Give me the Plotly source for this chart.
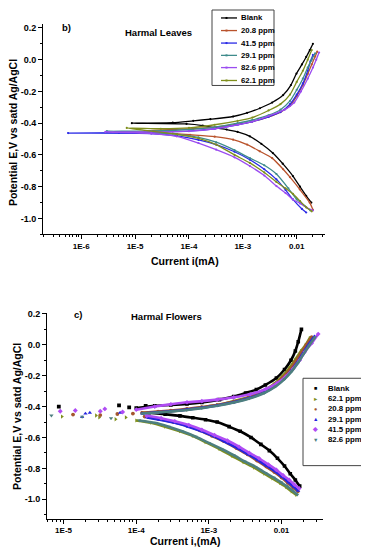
import plotly.graph_objects as go

W, H = 369, 550
OFF = 8  # page body margin of the browser
FW, FH = W - OFF, H - OFF

# ---------------- panel b) Harmal Leaves (current mA, potential V, in scan order) ----------------
LEAVES_NAMES = ["Blank", "20.8 ppm", "41.5 ppm", "29.1 ppm", "82.6 ppm", "62.1 ppm"]
LEAVES_COLORS = ["#000000", "#b9532c", "#2b2be6", "#3f8c8c", "#9b4cf0", "#7f8f1c"]

LEAVES_BLANK_I = [0.0187, 0.015, 0.0115, 0.0085, 0.0055, 0.0036, 0.0022, 0.00135, 0.0008, 0.0005, 0.00032, 0.00018, 0.00009,
                  0.0000087,
                  0.00005, 0.00012, 0.00025, 0.00066, 0.0012, 0.00207, 0.0035, 0.0056, 0.0078, 0.0099, 0.0125, 0.015, 0.0175, 0.02]
LEAVES_BLANK_E = [-0.90, -0.858, -0.80, -0.733, -0.655, -0.588, -0.53, -0.483, -0.455, -0.44, -0.43, -0.415, -0.405,
                  -0.40,
                  -0.397, -0.385, -0.375, -0.358, -0.335, -0.306, -0.27, -0.223, -0.16, -0.0875, -0.03, 0.017, 0.06, 0.10]

LEAVES_208_I = [0.02, 0.0174, 0.0114, 0.0075, 0.0056, 0.0035, 0.00207, 0.0012, 0.00066, 0.0003, 0.000105, 0.00005,
                0.000015,
                0.00005, 0.00012, 0.0003, 0.0007, 0.0015, 0.003, 0.005, 0.0075, 0.01, 0.013, 0.016, 0.019, 0.022, 0.024]
LEAVES_208_E = [-0.945, -0.90, -0.817, -0.74, -0.69, -0.62, -0.577, -0.535, -0.504, -0.485, -0.473, -0.465,
                -0.45,
                -0.44, -0.435, -0.425, -0.41, -0.39, -0.36, -0.33, -0.29, -0.23, -0.16, -0.09, -0.03, 0.02, 0.05]

LEAVES_415_I = [0.015, 0.0125, 0.0085, 0.0062, 0.0042, 0.0025, 0.00135, 0.0007, 0.00032, 0.00015, 0.00006, 0.00002,
                0.00000057,
                0.000005, 0.00003, 0.0001, 0.0003, 0.0008, 0.0015, 0.003, 0.005, 0.0075, 0.01, 0.013, 0.016, 0.018, 0.02]
LEAVES_415_E = [-0.9625, -0.94, -0.88, -0.82, -0.754, -0.69, -0.63, -0.58, -0.535, -0.505, -0.48, -0.465,
                -0.4625,
                -0.46, -0.455, -0.45, -0.435, -0.41, -0.39, -0.36, -0.33, -0.28, -0.22, -0.15, -0.07, -0.01, 0.03]

LEAVES_291_I = [0.018, 0.014, 0.01, 0.007, 0.0042, 0.0025, 0.00135, 0.0007, 0.00032, 0.00015, 0.00006,
                0.000003,
                0.00002, 0.0001, 0.0003, 0.0008, 0.0015, 0.003, 0.005, 0.0075, 0.01, 0.013, 0.016, 0.019, 0.022]
LEAVES_291_E = [-0.95, -0.92, -0.88, -0.81, -0.72, -0.665, -0.62, -0.57, -0.52, -0.49, -0.47,
                -0.45,
                -0.45, -0.44, -0.425, -0.40, -0.38, -0.35, -0.315, -0.26, -0.19, -0.12, -0.05, 0.0, 0.04]

LEAVES_826_I = [0.02, 0.015, 0.0115, 0.0085, 0.0062, 0.0042, 0.0025, 0.00135, 0.0007, 0.00032, 0.00015, 0.000059, 0.00002,
                0.0000028,
                0.00002, 0.0001, 0.0003, 0.0008, 0.0015, 0.003, 0.006, 0.009, 0.012, 0.016, 0.02, 0.023, 0.026]
LEAVES_826_E = [-0.95, -0.93, -0.905, -0.88, -0.84, -0.796, -0.73, -0.67, -0.615, -0.567, -0.525, -0.483, -0.465,
                -0.455,
                -0.455, -0.45, -0.435, -0.41, -0.39, -0.355, -0.315, -0.27, -0.20, -0.12, -0.05, 0.0, 0.045]

LEAVES_621_I = [0.019, 0.015, 0.0115, 0.0085, 0.0062, 0.0042, 0.0025, 0.00135, 0.0007, 0.00032, 0.00015, 0.00006,
                0.000007,
                0.00003, 0.0001, 0.0003, 0.0008, 0.0015, 0.003, 0.005, 0.0075, 0.01, 0.013, 0.016, 0.019]
LEAVES_621_E = [-0.955, -0.93, -0.89, -0.845, -0.81, -0.77, -0.71, -0.65, -0.60, -0.535, -0.495, -0.47,
                -0.43,
                -0.435, -0.43, -0.41, -0.385, -0.365, -0.32, -0.28, -0.22, -0.14, -0.07, 0.0, 0.06]

LEAVES_I = [LEAVES_BLANK_I, LEAVES_208_I, LEAVES_415_I, LEAVES_291_I, LEAVES_826_I, LEAVES_621_I]
LEAVES_E = [LEAVES_BLANK_E, LEAVES_208_E, LEAVES_415_E, LEAVES_291_E, LEAVES_826_E, LEAVES_621_E]

# ---------------- panel c) Harmal Flowers ----------------
FLOW_NAMES = ["Blank", "62.1 ppm", "20.8 ppm", "29.1 ppm", "41.5 ppm", "82.6 ppm"]
FLOW_COLORS = ["#000000", "#7f8f1c", "#a4562e", "#2424e0", "#b04cf4", "#4d7f7f"]
FLOW_SYMBOLS = ["square", "triangle-right", "circle", "triangle-up", "diamond", "triangle-down"]
FLOW_GLYPHS = ["\u25a0", "\u25ba", "\u25cf", "\u25b2", "\u25c6", "\u25bc"]

FLOW_BLANK_CATH_I = [0.0178, 0.0155, 0.0132, 0.011, 0.0088, 0.0068, 0.0052, 0.0038, 0.0027, 0.0019, 0.0013, 0.0009, 0.0006, 0.0004, 0.00025, 0.00015]
FLOW_BLANK_CATH_E = [-0.915, -0.875, -0.835, -0.785, -0.735, -0.685, -0.645, -0.60, -0.56, -0.53, -0.50, -0.485, -0.472, -0.46, -0.45, -0.44]
FLOW_BLANK_AN_I = [0.0001, 0.00018, 0.0003, 0.0005, 0.0008, 0.0014, 0.0022, 0.0032, 0.0045, 0.006, 0.0085, 0.011, 0.0135, 0.0155, 0.017, 0.0188]
FLOW_BLANK_AN_E = [-0.41, -0.395, -0.39, -0.383, -0.373, -0.355, -0.335, -0.312, -0.29, -0.26, -0.215, -0.16, -0.10, -0.04, 0.02, 0.10]
FLOW_BLANK_PTS_I = [8.6e-6, 5.8e-5, 8.0e-5, 1.35e-4]
FLOW_BLANK_PTS_E = [-0.40, -0.392, -0.405, -0.395]

FLOW_621_CATH_I = [0.016, 0.0138, 0.0115, 0.0095, 0.0075, 0.0058, 0.0042, 0.003, 0.0021, 0.0014, 0.0009, 0.0006, 0.0004, 0.00025, 0.00016, 0.0001]
FLOW_621_CATH_E = [-0.972, -0.95, -0.92, -0.895, -0.865, -0.835, -0.795, -0.76, -0.72, -0.675, -0.63, -0.59, -0.56, -0.53, -0.505, -0.49]
FLOW_621_AN_I = [0.00012, 0.0002, 0.0003, 0.0005, 0.0008, 0.0013, 0.0022, 0.0035, 0.0055, 0.0078, 0.0102, 0.0128, 0.0155, 0.0185, 0.0215, 0.0245]
FLOW_621_AN_E = [-0.44, -0.435, -0.43, -0.42, -0.405, -0.39, -0.365, -0.34, -0.30, -0.255, -0.205, -0.15, -0.095, -0.04, 0.0, 0.045]
FLOW_621_PTS_I = [9.5e-6, 2.8e-5, 3.1e-5, 5.2e-5, 7.2e-5]
FLOW_621_PTS_E = [-0.465, -0.458, -0.47, -0.482, -0.47]

FLOW_208_CATH_I = [0.0168, 0.0145, 0.0122, 0.01, 0.008, 0.0062, 0.0046, 0.0034, 0.0024, 0.0016, 0.0011, 0.00075, 0.0005, 0.00032, 0.0002, 0.00013]
FLOW_208_CATH_E = [-0.95, -0.925, -0.895, -0.86, -0.825, -0.79, -0.75, -0.71, -0.67, -0.625, -0.59, -0.555, -0.525, -0.50, -0.48, -0.465]
FLOW_208_AN_I = [0.00012, 0.0002, 0.0003, 0.0005, 0.0008, 0.0013, 0.0022, 0.0035, 0.0055, 0.0078, 0.0102, 0.0128, 0.0155, 0.0185, 0.022, 0.026]
FLOW_208_AN_E = [-0.44, -0.432, -0.425, -0.415, -0.403, -0.39, -0.368, -0.342, -0.305, -0.262, -0.215, -0.165, -0.11, -0.055, 0.0, 0.05]
FLOW_208_PTS_I = [1.35e-5, 3.2e-5, 5.5e-5, 9e-5]
FLOW_208_PTS_E = [-0.452, -0.455, -0.448, -0.445]

FLOW_291_CATH_I = [0.017, 0.0148, 0.0125, 0.0102, 0.0082, 0.0063, 0.0047, 0.0035, 0.0025, 0.0017, 0.0012, 0.0008, 0.00052, 0.00034, 0.00021, 0.00014]
FLOW_291_CATH_E = [-0.945, -0.92, -0.89, -0.855, -0.82, -0.785, -0.745, -0.71, -0.67, -0.63, -0.595, -0.56, -0.53, -0.505, -0.485, -0.47]
FLOW_291_AN_I = [0.00012, 0.0002, 0.0003, 0.0005, 0.0008, 0.0013, 0.0022, 0.0036, 0.0057, 0.0082, 0.0108, 0.0135, 0.0165, 0.0195, 0.0235, 0.0285]
FLOW_291_AN_E = [-0.445, -0.437, -0.43, -0.42, -0.408, -0.393, -0.372, -0.345, -0.31, -0.268, -0.22, -0.17, -0.115, -0.06, 0.0, 0.055]
FLOW_291_PTS_I = [1.8e-5, 2.0e-5, 2.3e-5, 6e-5]
FLOW_291_PTS_E = [-0.468, -0.445, -0.44, -0.44]

FLOW_415_CATH_I = [0.0175, 0.015, 0.0128, 0.0105, 0.0085, 0.0066, 0.0049, 0.0036, 0.0026, 0.0018, 0.0012, 0.0008, 0.00053, 0.00034, 0.00022, 0.00014]
FLOW_415_CATH_E = [-0.93, -0.905, -0.875, -0.845, -0.81, -0.775, -0.735, -0.70, -0.66, -0.62, -0.585, -0.55, -0.52, -0.495, -0.475, -0.46]
FLOW_415_AN_I = [0.0001, 0.00018, 0.0003, 0.0005, 0.0008, 0.0013, 0.0022, 0.0037, 0.006, 0.0086, 0.0115, 0.0145, 0.0178, 0.021, 0.026, 0.032]
FLOW_415_AN_E = [-0.42, -0.40, -0.385, -0.372, -0.365, -0.355, -0.34, -0.32, -0.288, -0.25, -0.205, -0.155, -0.10, -0.045, 0.01, 0.07]
FLOW_415_PTS_I = [9e-6, 1.45e-5, 3.2e-5, 3.7e-5, 6.5e-5]
FLOW_415_PTS_E = [-0.43, -0.425, -0.43, -0.415, -0.435]

FLOW_826_CATH_I = [0.0165, 0.0142, 0.0118, 0.0098, 0.0078, 0.006, 0.0044, 0.0031, 0.0022, 0.0015, 0.001, 0.00066, 0.00043, 0.00028, 0.00018, 0.00011]
FLOW_826_CATH_E = [-0.97, -0.945, -0.915, -0.89, -0.86, -0.83, -0.79, -0.755, -0.715, -0.675, -0.635, -0.595, -0.56, -0.53, -0.505, -0.49]
FLOW_826_AN_I = [0.00012, 0.0002, 0.0003, 0.0005, 0.0008, 0.0013, 0.0022, 0.0036, 0.0058, 0.0083, 0.011, 0.0138, 0.0168, 0.02, 0.024, 0.029]
FLOW_826_AN_E = [-0.445, -0.438, -0.432, -0.422, -0.41, -0.395, -0.374, -0.348, -0.312, -0.27, -0.222, -0.172, -0.118, -0.062, -0.005, 0.05]
FLOW_826_PTS_I = [6.8e-6, 1.8e-5, 4.5e-5]
FLOW_826_PTS_E = [-0.458, -0.466, -0.476]

FLOW_CATH_I = [FLOW_BLANK_CATH_I, FLOW_621_CATH_I, FLOW_208_CATH_I, FLOW_291_CATH_I, FLOW_415_CATH_I, FLOW_826_CATH_I]
FLOW_CATH_E = [FLOW_BLANK_CATH_E, FLOW_621_CATH_E, FLOW_208_CATH_E, FLOW_291_CATH_E, FLOW_415_CATH_E, FLOW_826_CATH_E]
FLOW_AN_I = [FLOW_BLANK_AN_I, FLOW_621_AN_I, FLOW_208_AN_I, FLOW_291_AN_I, FLOW_415_AN_I, FLOW_826_AN_I]
FLOW_AN_E = [FLOW_BLANK_AN_E, FLOW_621_AN_E, FLOW_208_AN_E, FLOW_291_AN_E, FLOW_415_AN_E, FLOW_826_AN_E]
FLOW_PTS_I = [FLOW_BLANK_PTS_I, FLOW_621_PTS_I, FLOW_208_PTS_I, FLOW_291_PTS_I, FLOW_415_PTS_I, FLOW_826_PTS_I]
FLOW_PTS_E = [FLOW_BLANK_PTS_E, FLOW_621_PTS_E, FLOW_208_PTS_E, FLOW_291_PTS_E, FLOW_415_PTS_E, FLOW_826_PTS_E]

X_TICKS_LEAVES = [1e-6, 1e-5, 1e-4, 1e-3, 1e-2]
X_TEXT_LEAVES = ["1E-6", "1E-5", "1E-4", "1E-3", "0.01"]
X_TICKS_FLOW = [1e-5, 1e-4, 1e-3, 1e-2]
X_TEXT_FLOW = ["1E-5", "1E-4", "1E-3", "0.01"]
Y_TICKS = [-1.0, -0.8, -0.6, -0.4, -0.2, 0.0, 0.2]
Y_TEXT = ["-1.0", "-0.8", "-0.6", "-0.4", "-0.2", "0.0", "0.2"]

FONT = "Liberation Sans, Arial, sans-serif"


def px(x):
    return (x - OFF) / FW


def py(y):
    return 1 - (y - OFF) / FH


fig = go.Figure()

# Leaves: lines with small symbols
for name, col, xs, ys in zip(LEAVES_NAMES, LEAVES_COLORS, LEAVES_I, LEAVES_E):
    fig.add_trace(go.Scatter(x=xs, y=ys, mode="lines+markers", name=name, showlegend=False,
                             line=dict(color=col, width=1.3, shape="spline", smoothing=0.6),
                             marker=dict(color=col, size=2.2),
                             xaxis="x", yaxis="y"))

# Flowers: dense symbols
for k, (name, col, sym) in enumerate(zip(FLOW_NAMES, FLOW_COLORS, FLOW_SYMBOLS)):
    for xs, ys in ((FLOW_CATH_I[k], FLOW_CATH_E[k]), (FLOW_AN_I[k], FLOW_AN_E[k])):
        fig.add_trace(go.Scatter(x=xs, y=ys, mode="lines+markers", name=name, showlegend=False,
                                 line=dict(color=col, width=2.6, shape="spline", smoothing=0.6),
                                 marker=dict(color=col, size=3.6, symbol=sym),
                                 xaxis="x2", yaxis="y2"))
    fig.add_trace(go.Scatter(x=FLOW_PTS_I[k], y=FLOW_PTS_E[k], mode="markers", name=name, showlegend=False,
                             marker=dict(color=col, size=3.8, symbol=sym),
                             xaxis="x2", yaxis="y2"))

axis_common = dict(showline=True, linecolor="black", linewidth=1, ticks="outside", tickcolor="black",
                   ticklen=4, tickwidth=1, showgrid=False, zeroline=False, mirror=False)

fig.update_layout(
    width=FW, height=FH,
    margin=dict(l=0, r=0, t=0, b=0),
    paper_bgcolor="white", plot_bgcolor="white",
    showlegend=False,
    font=dict(family=FONT, color="black"),
    xaxis=dict(type="log", range=[-6.71, -1.475], domain=[px(43), px(325)], anchor="y",
               tickvals=X_TICKS_LEAVES, ticktext=X_TEXT_LEAVES,
               tickfont=dict(size=8, weight="bold", family=FONT),
               minor=dict(ticks="outside", ticklen=2, tickcolor="black", dtick="D1", showgrid=False),
               **axis_common),
    yaxis=dict(range=[-1.1, 0.225], domain=[py(232), py(20)], anchor="x",
               tickvals=Y_TICKS, ticktext=Y_TEXT,
               tickfont=dict(size=9, weight="bold", family=FONT),
               minor=dict(ticks="outside", ticklen=2, tickcolor="black", dtick=0.1, tick0=0, showgrid=False),
               **axis_common),
    xaxis2=dict(type="log", range=[-5.228, -1.429], domain=[px(47), px(323)], anchor="y2",
                tickvals=X_TICKS_FLOW, ticktext=X_TEXT_FLOW,
                tickfont=dict(size=8, weight="bold", family=FONT),
                minor=dict(ticks="outside", ticklen=2, tickcolor="black", dtick="D1", showgrid=False),
                **axis_common),
    yaxis2=dict(range=[-1.125, 0.203], domain=[py(518.3), py(311.7)], anchor="x2",
                tickvals=Y_TICKS, ticktext=Y_TEXT,
                tickfont=dict(size=9, weight="bold", family=FONT),
                minor=dict(ticks="outside", ticklen=2, tickcolor="black", dtick=0.1, tick0=0, showgrid=False),
                **axis_common),
)

ann = []
shapes = []


def text(x, y, s, size, xanchor="center", angle=0, color="black"):
    ann.append(dict(x=px(x), y=py(y), xref="paper", yref="paper", text=s, showarrow=False,
                    xanchor=xanchor, yanchor="middle", textangle=angle,
                    font=dict(size=size, family=FONT, weight="bold", color=color)))


# titles and labels
text(13, 130, "Potential E,V vs satd Ag/AgCl", 10.5, angle=-90)
text(185, 259, "Current i(mA)", 10.5)
text(66, 24, "b)", 9.5)
text(158, 29, "Harmal Leaves", 9.5)

text(17, 416, "Potential E,V vs satd Ag/AgCl", 10.5, angle=-90)
text(185, 541, "Current i,(mA)", 10.5)
text(78, 313, "c)", 9.5)
text(166, 315, "Harmal Flowers", 9.5)

# legend for leaves
shapes.append(dict(type="rect", xref="paper", yref="paper", x0=px(212), x1=px(274), y0=py(82), y1=py(6),
                   line=dict(color="#444", width=1), fillcolor="white"))
leg_y = [14, 26.7, 39.3, 51.7, 64, 77]
for name, col, yy in zip(LEAVES_NAMES, LEAVES_COLORS, leg_y):
    shapes.append(dict(type="line", xref="paper", yref="paper", x0=px(221), x1=px(237), y0=py(yy), y1=py(yy),
                       line=dict(color=col, width=1.3)))
    shapes.append(dict(type="rect", xref="paper", yref="paper", x0=px(225.5), x1=px(227.5),
                       y0=py(yy + 1), y1=py(yy - 1), line=dict(width=0), fillcolor=col))
    text(239, yy, name, 7.8, xanchor="left")

# legend for flowers
shapes.append(dict(type="rect", xref="paper", yref="paper", x0=px(303), x1=px(367), y0=py(465), y1=py(377),
                   line=dict(color="#444", width=1), fillcolor="white"))
leg_y2 = [387, 397.4, 407.8, 418.2, 428.6, 439]
for name, col, g, yy in zip(FLOW_NAMES, FLOW_COLORS, FLOW_GLYPHS, leg_y2):
    text(315, yy, g, 5.5, color=col)
    text(326, yy, name, 7.8, xanchor="left")

fig.update_layout(annotations=ann, shapes=shapes)

fig.write_html("out.html")
